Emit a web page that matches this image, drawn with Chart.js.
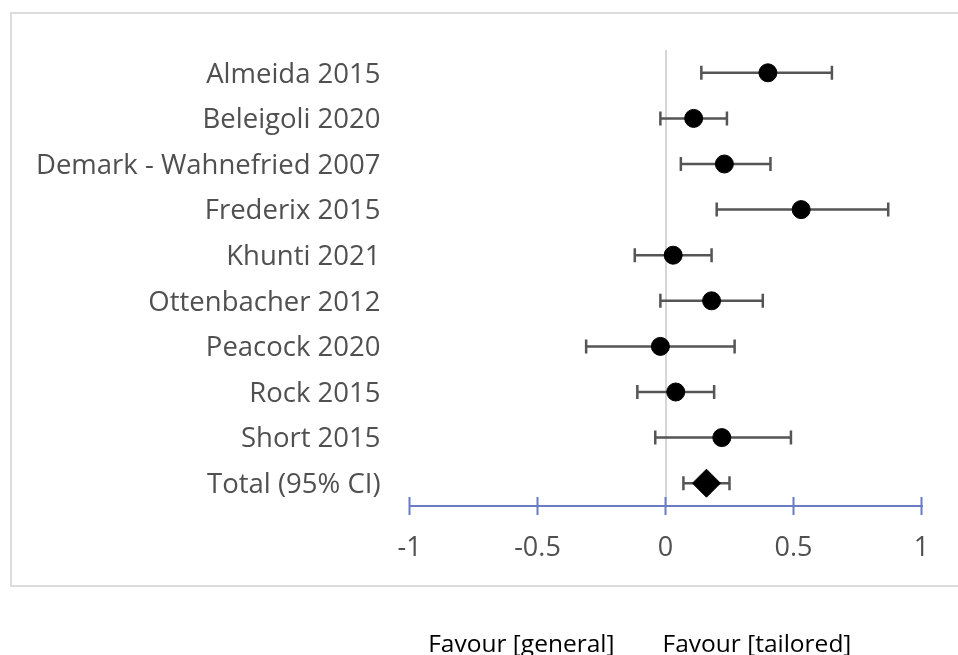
<!DOCTYPE html>
<html>
<head>
<meta charset="utf-8">
<script src="https://cdn.jsdelivr.net/npm/chart.js@4/dist/chart.umd.min.js"></script>
<style>
  html, body { margin: 0; padding: 0; background: #fff; overflow: hidden; }
  #wrap { position: relative; width: 958px; height: 655px; }
  #frame { position: absolute; left: 10px; top: 12px; width: 1000px; height: 575px;
           border: 2px solid #dcdcdc; box-sizing: border-box; }
  canvas { position: absolute; left: 0; top: 0; }
</style>
</head>
<body>
<div id="wrap">
  <div id="frame"></div>
  <canvas id="forest" width="958" height="655"></canvas>
</div>
<script>
// Studies and pooled result (standardised effect with 95% CI)
const studies = ['Almeida 2015', 'Beleigoli 2020', 'Demark - Wahnefried 2007', 'Frederix 2015',
                 'Khunti 2021', 'Ottenbacher 2012', 'Peacock 2020', 'Rock 2015', 'Short 2015',
                 'Total (95% CI)'];
const estimate = [0.40, 0.11, 0.23, 0.53, 0.03, 0.18, -0.02, 0.04, 0.22, 0.16];
const lower    = [0.14, -0.02, 0.06, 0.20, -0.12, -0.02, -0.31, -0.11, -0.04, 0.07];
const upper    = [0.65, 0.24, 0.41, 0.87, 0.18, 0.38, 0.27, 0.19, 0.49, 0.25];
const xTicks   = [-1, -0.5, 0, 0.5, 1];
const sideLabels = ['Favour [general]', 'Favour [tailored]'];

const FONT = '"Open Sans", "DejaVu Sans", sans-serif';
const AXIS_BLUE = '#6a7cc4';
const BAR_GREY = '#555555';
const TEXT_GREY = '#505050';

const last = studies.length - 1;
const studyPoints = studies.slice(0, last).map((s, i) => ({ x: estimate[i], y: s }));
const totalPoint = [{ x: estimate[last], y: studies[last] }];

// Confidence-interval whiskers with end caps, drawn behind the markers
const whiskers = {
  id: 'whiskers',
  beforeDatasetsDraw(chart) {
    const { ctx, scales: { x, y } } = chart;
    ctx.save();
    ctx.strokeStyle = BAR_GREY;
    ctx.lineWidth = 2.5;
    studies.forEach((s, i) => {
      const yp = y.getPixelForValue(i);
      const x1 = x.getPixelForValue(lower[i]);
      const x2 = x.getPixelForValue(upper[i]);
      ctx.beginPath();
      ctx.moveTo(x1, yp); ctx.lineTo(x2, yp);
      ctx.moveTo(x1, yp - 7); ctx.lineTo(x1, yp + 7);
      ctx.moveTo(x2, yp - 7); ctx.lineTo(x2, yp + 7);
      ctx.stroke();
    });
    ctx.restore();
  }
};

// Blue axis tick marks crossing the axis line, plus the two direction labels
const axisDecor = {
  id: 'axisDecor',
  afterDraw(chart) {
    const { ctx, chartArea, scales: { x } } = chart;
    const yb = chartArea.bottom;
    ctx.save();
    ctx.strokeStyle = AXIS_BLUE;
    ctx.lineWidth = 2;
    ctx.beginPath();
    xTicks.forEach(v => {
      const xp = x.getPixelForValue(v);
      ctx.moveTo(xp, yb - 9); ctx.lineTo(xp, yb + 9);
    });
    ctx.stroke();

    const x0 = x.getPixelForValue(0);
    ctx.fillStyle = '#000';
    ctx.font = '24.5px ' + FONT;
    ctx.textBaseline = 'alphabetic';
    ctx.textAlign = 'right';
    ctx.fillText(sideLabels[0], x0 - 51, 652);
    ctx.textAlign = 'left';
    ctx.fillText(sideLabels[1], x0 - 3, 652);
    ctx.restore();
  }
};

new Chart(document.getElementById('forest'), {
  type: 'scatter',
  data: {
    labels: studies,
    datasets: [
      {
        data: studyPoints,
        pointStyle: 'circle',
        pointRadius: 9,
        pointHoverRadius: 9,
        backgroundColor: '#000',
        borderColor: '#000',
        borderWidth: 1
      },
      {
        data: totalPoint,
        pointStyle: 'rectRot',
        pointRadius: 14,
        pointHoverRadius: 14,
        backgroundColor: '#000',
        borderColor: '#000',
        borderWidth: 1
      }
    ]
  },
  options: {
    responsive: false,
    animation: false,
    events: [],
    layout: { padding: { left: 9.5, right: 36.5, top: 50, bottom: 89 } },
    plugins: { legend: { display: false }, tooltip: { enabled: false } },
    scales: {
      x: {
        type: 'linear',
        min: -1, max: 1,
        afterBuildTicks(scale) { scale.ticks = xTicks.map(v => ({ value: v })); },
        afterFit(scale) { scale.height = 60; },
        ticks: {
          color: TEXT_GREY,
          font: { family: FONT, size: 27 },
          padding: 26,
          callback: v => String(v)
        },
        grid: {
          drawTicks: false,
          lineWidth: 2,
          color: ctx => (ctx.tick && ctx.tick.value === 0) ? '#d6d6d6' : 'rgba(0,0,0,0)'
        },
        border: { display: true, color: AXIS_BLUE, width: 2 }
      },
      y: {
        type: 'category',
        labels: studies,
        offset: true,
        afterFit(scale) { scale.width = 400; },
        ticks: {
          color: TEXT_GREY,
          font: { family: FONT, size: 27.5 },
          padding: 29,
          labelOffset: 2
        },
        grid: { display: false, drawTicks: false },
        border: { display: false }
      }
    }
  },
  plugins: [whiskers, axisDecor]
});
</script>
</body>
</html>
